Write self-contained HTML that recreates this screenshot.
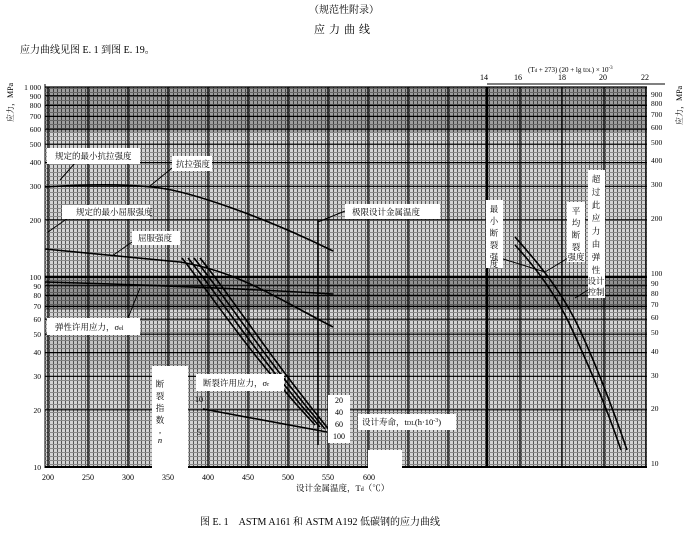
<!DOCTYPE html>
<html><head><meta charset="utf-8"><style>
html,body{margin:0;padding:0;background:#fff;}
svg{display:block;font-family:"Liberation Serif","Noto Serif CJK SC","Noto Sans CJK SC",serif;}
</style></head><body>
<svg width="689" height="544" viewBox="0 0 689 544" xmlns="http://www.w3.org/2000/svg">
<defs>
<pattern id="g" x="45" y="0" width="4" height="4" patternUnits="userSpaceOnUse">
<rect width="4" height="4" fill="#d4d4d4"/>
<rect x="0" y="0" width="1" height="4" fill="#555"/>
<rect x="0" y="0" width="4" height="1" fill="#8a8a8a"/>
</pattern>
</defs>
<text x="344" y="13" font-size="10" text-anchor="middle">（规范性附录）</text>
<text x="344" y="33" font-size="11" text-anchor="middle" letter-spacing="4">应力曲线</text>
<text x="20" y="53" font-size="10">应力曲线见图 E. 1 到图 E. 19。</text>
<text x="528" y="72" font-size="7">(T<tspan font-size="5">d</tspan> + 273) (20 + lg t<tspan font-size="5">DL</tspan>) × 10<tspan font-size="5" dy="-3">-3</tspan></text>
<g font-size="8" text-anchor="middle">
<text x="484" y="80">14</text><text x="518" y="80">16</text><text x="562" y="80">18</text><text x="603" y="80">20</text><text x="645" y="80">22</text>
</g>
<line x1="45" y1="84" x2="45" y2="468" stroke="#000"/>
<line x1="487" y1="84" x2="665" y2="84" stroke="#000"/>
<!-- grid -->
<rect x="45" y="87" width="602" height="381" fill="url(#g)"/>
<rect x="45" y="87" width="602" height="45" fill="#000" opacity="0.25"/>
<rect x="45" y="275" width="602" height="35" fill="#000" opacity="0.3"/>
<rect x="45" y="330" width="602" height="40" fill="#000" opacity="0.08"/>
<g stroke="#000" stroke-width="1.2">
<line x1="45" x2="647" y1="87" y2="87"/><line x1="45" x2="647" y1="95.7" y2="95.7"/><line x1="45" x2="647" y1="105.4" y2="105.4"/><line x1="45" x2="647" y1="116.4" y2="116.4"/><line x1="45" x2="647" y1="129.2" y2="129.2"/><line x1="45" x2="647" y1="144.2" y2="144.2"/><line x1="45" x2="647" y1="162.6" y2="162.6"/><line x1="45" x2="647" y1="186.3" y2="186.3"/><line x1="45" x2="647" y1="219.8" y2="219.8"/><line x1="45" x2="647" y1="277" y2="277" stroke-width="2"/><line x1="45" x2="647" y1="285.7" y2="285.7"/><line x1="45" x2="647" y1="295.4" y2="295.4"/><line x1="45" x2="647" y1="306.4" y2="306.4"/><line x1="45" x2="647" y1="319.2" y2="319.2"/><line x1="45" x2="647" y1="334.2" y2="334.2"/><line x1="45" x2="647" y1="352.6" y2="352.6"/><line x1="45" x2="647" y1="376.3" y2="376.3"/><line x1="45" x2="647" y1="409.8" y2="409.8"/><line x1="45" x2="647" y1="467" y2="467" stroke-width="2"/>
</g>
<g stroke="#000" stroke-width="1.3">
<line x1="48" x2="48" y1="87" y2="467"/><line x1="88" x2="88" y1="87" y2="467"/><line x1="128" x2="128" y1="87" y2="467"/><line x1="168" x2="168" y1="87" y2="467"/><line x1="208" x2="208" y1="87" y2="467"/><line x1="248" x2="248" y1="87" y2="467"/><line x1="288" x2="288" y1="87" y2="467"/><line x1="328" x2="328" y1="87" y2="467"/><line x1="368" x2="368" y1="87" y2="467"/><line x1="408" x2="408" y1="87" y2="467"/><line x1="448" x2="448" y1="87" y2="467"/><line x1="487" x2="487" y1="87" y2="467" stroke-width="2.5"/><line x1="520" x2="520" y1="87" y2="467"/><line x1="562" x2="562" y1="87" y2="467"/><line x1="604" x2="604" y1="87" y2="467"/><line x1="646" x2="646" y1="87" y2="467"/>
</g>
<!-- white gaps -->
<rect x="152" y="366" width="36" height="104" fill="#fff"/>
<rect x="368" y="450" width="34" height="19" fill="#fff"/>
<!-- curves -->
<g fill="none" stroke="#000" stroke-width="1.6">
<path d="M45,187 C90,184 130,184 160,188 S260,215 333,251"/>
<path d="M45,249 L180,262 C240,272 280,300 333,327"/>
<path d="M45,282 C150,285 250,289 333,294"/>
<path d="M182,258 C215,300 250,355 315,425"/>
<path d="M188,258 C222,300 256,355 320,427"/>
<path d="M194,258 C228,300 262,355 325,429"/>
<path d="M200,258 C234,300 268,355 330,431"/>
<path d="M203,409 L327,432"/>
<path d="M515,237 C540,265 560,290 575,320 S610,400 627,450"/>
<path d="M515,245 C538,270 556,295 570,325 S604,400 621,450"/>
</g>
<g stroke="#000" stroke-width="1">
<line x1="318" y1="220" x2="318" y2="445" stroke-width="1.5"/>
<line x1="60" y1="180" x2="75" y2="163"/><line x1="150" y1="186" x2="172" y2="168"/>
<line x1="48" y1="232" x2="68" y2="218"/><line x1="112" y1="256" x2="132" y2="242"/>
<line x1="140" y1="288" x2="128" y2="318"/><line x1="318" y1="222" x2="345" y2="211"/>
<line x1="500" y1="258" x2="545" y2="272"/><line x1="545" y1="272" x2="568" y2="258"/>
<line x1="575" y1="298" x2="588" y2="290"/>
</g>
<!-- label boxes -->
<g fill="#fff">
<rect x="47" y="148" width="93" height="16"/><rect x="172" y="156" width="40" height="15"/>
<rect x="62" y="205" width="88" height="14"/><rect x="132" y="231" width="48" height="14"/>
<rect x="47" y="318" width="93" height="17"/><rect x="345" y="204" width="95" height="15"/>
<rect x="196" y="374" width="88" height="17"/><rect x="328" y="395" width="22" height="48"/>
<rect x="358" y="414" width="98" height="16"/>
<rect x="486" y="200" width="17" height="68"/><rect x="567" y="202" width="18" height="60"/><rect x="588" y="170" width="17" height="128"/>
</g>
<g font-size="8.5" fill="#000">
<text x="55" y="159">规定的最小抗拉强度</text>
<text x="176" y="167">抗拉强度</text>
<text x="76" y="215">规定的最小屈服强度</text>
<text x="138" y="241">屈服强度</text>
<text x="55" y="330">弹性许用应力，σ<tspan font-size="6">el</tspan></text>
<text x="352" y="215">极限设计金属温度</text>
<text x="203" y="386">断裂许用应力，σ<tspan font-size="6">r</tspan></text>
<text x="362" y="425">设计寿命，t<tspan font-size="6">DL</tspan>(h·10<tspan font-size="6" dy="-3">-3</tspan><tspan dy="3">)</tspan></text>
</g>
<g font-size="8" text-anchor="middle">
<text x="339" y="403">20</text><text x="339" y="415">40</text><text x="339" y="427">60</text><text x="339" y="439">100</text>
<text x="199" y="402">10</text><text x="199" y="435">5</text>
</g>
<g font-size="8.5" text-anchor="middle">
<text x="160" y="387">断</text><text x="160" y="399">裂</text><text x="160" y="411">指</text><text x="160" y="423">数</text><text x="160" y="433">,</text><text x="160" y="443" font-style="italic">n</text>
<text x="494" y="212">最</text><text x="494" y="224">小</text><text x="494" y="236">断</text><text x="494" y="248">裂</text><text x="494" y="260">强</text><text x="494" y="267">度</text>
<text x="576" y="214">平</text><text x="576" y="226">均</text><text x="576" y="238">断</text><text x="576" y="250">裂</text><text x="576" y="260">强度</text>
<text x="596" y="182">超</text><text x="596" y="195">过</text><text x="596" y="208">此</text><text x="596" y="221">应</text><text x="596" y="234">力</text><text x="596" y="247">由</text><text x="596" y="260">弹</text><text x="596" y="273">性</text><text x="596" y="284">设计</text><text x="596" y="295">控制</text>
</g>
<!-- left axis -->
<g font-size="7.5" text-anchor="end">
<text x="41" y="90">1 000</text><text x="41" y="99">900</text><text x="41" y="108">800</text><text x="41" y="119">700</text><text x="41" y="132">600</text><text x="41" y="147">500</text><text x="41" y="165">400</text><text x="41" y="189">300</text><text x="41" y="223">200</text><text x="41" y="280">100</text><text x="41" y="289">90</text><text x="41" y="298">80</text><text x="41" y="309">70</text><text x="41" y="322">60</text><text x="41" y="337">50</text><text x="41" y="355">40</text><text x="41" y="379">30</text><text x="41" y="413">20</text><text x="41" y="470">10</text>
</g>
<g font-size="7.5">
<text x="651" y="97">900</text><text x="651" y="106">800</text><text x="651" y="117">700</text><text x="651" y="130">600</text><text x="651" y="145">500</text><text x="651" y="163">400</text><text x="651" y="187">300</text><text x="651" y="221">200</text><text x="651" y="276">100</text><text x="651" y="286">90</text><text x="651" y="296">80</text><text x="651" y="307">70</text><text x="651" y="320">60</text><text x="651" y="335">50</text><text x="651" y="354">40</text><text x="651" y="378">30</text><text x="651" y="411">20</text><text x="651" y="466">10</text>
</g>
<text font-size="8" transform="translate(13,122) rotate(-90)">应力，MPa</text>
<text font-size="8" transform="translate(682,125) rotate(-90)">应力，MPa</text>
<g font-size="8" text-anchor="middle">
<text x="48" y="480">200</text><text x="88" y="480">250</text><text x="128" y="480">300</text><text x="168" y="480">350</text><text x="208" y="480">400</text><text x="248" y="480">450</text><text x="288" y="480">500</text><text x="328" y="480">550</text><text x="369" y="480">600</text>
</g>
<text x="296" y="491" font-size="8.5">设计金属温度，T<tspan font-size="6">d</tspan>（℃）</text>
<text x="200" y="525" font-size="10">图 E. 1　ASTM A161 和 ASTM A192 低碳钢的应力曲线</text>
</svg>
</body></html>
